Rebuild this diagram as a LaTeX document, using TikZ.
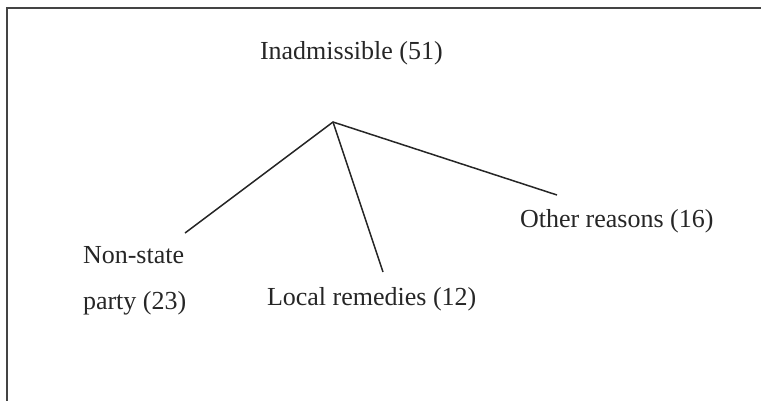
\documentclass[tikz,border=0pt]{standalone}
\usepackage{fontspec}
\setmainfont{Liberation Serif}
\definecolor{ink}{HTML}{262626}
\definecolor{framec}{HTML}{444444}
\tikzset{
  lbl/.style={inner sep=0pt, outer sep=0pt, text=ink, font=\fontsize{26}{46}\selectfont},
  branch/.style={draw=ink, line width=1.5pt},
  framel/.style={draw=framec, line width=2pt}
}
\begin{document}
\begin{tikzpicture}[x=1pt,y=-1pt]
\useasboundingbox (0,0) rectangle (761,400);
\draw[framel] (7,401) -- (7,8) -- (762,8);
\node[lbl, anchor=base west] (root) at (260,59) {Inadmissible (51)};
\node[lbl, anchor=base west] (other) at (520,227) {Other reasons (16)};
\node[lbl, anchor=base west] (local) at (267,305) {Local remedies (12)};
\node[lbl, anchor=north west, align=left] (nonstate) at (83,246) {Non-state\\party (23)};
\coordinate (apex) at (333,122);
\coordinate (endns) at (185,233);
\coordinate (endlr) at (383,272);
\coordinate (endor) at (557,195);
\draw[branch] (endns) -- (apex) -- (endor);
\draw[branch] (apex) -- (endlr);
\end{tikzpicture}
\end{document}
